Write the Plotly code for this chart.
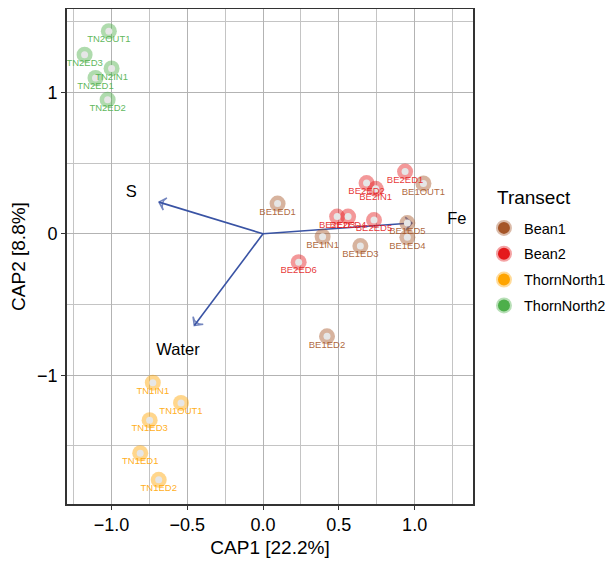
import plotly.graph_objects as go

# ---------------- data ----------------
groups = ["Bean1", "Bean2", "ThornNorth1", "ThornNorth2"]
group_colors = ["#A65628", "#E41A1C", "#FFA500", "#4DAF4A"]

bean1_labels = ["BE1OUT1", "BE1ED1", "BE1ED5", "BE1IN1", "BE1ED4", "BE1ED3", "BE1ED2"]
bean1_x = [1.058, 0.096, 0.952, 0.393, 0.952, 0.642, 0.422]
bean1_y = [0.356, 0.214, 0.076, -0.020, -0.025, -0.087, -0.725]

bean2_labels = ["BE2ED1", "BE2ED2", "BE2IN1", "BE2ED3", "BE2ED4", "BE2ED5", "BE2ED6"]
bean2_x = [0.937, 0.683, 0.743, 0.489, 0.561, 0.732, 0.235]
bean2_y = [0.440, 0.359, 0.318, 0.122, 0.122, 0.097, -0.201]

tn1_labels = ["TN1IN1", "TN1OUT1", "TN1ED3", "TN1ED1", "TN1ED2"]
tn1_x = [-0.727, -0.541, -0.748, -0.810, -0.688]
tn1_y = [-1.053, -1.196, -1.318, -1.552, -1.740]

tn2_labels = ["TN2OUT1", "TN2ED3", "TN2IN1", "TN2ED1", "TN2ED2"]
tn2_x = [-1.017, -1.177, -0.999, -1.105, -1.025]
tn2_y = [1.433, 1.267, 1.170, 1.102, 0.949]

env_names = ["S", "Water", "Fe"]
env_x = [-0.686, -0.453, 0.983]
env_y = [0.224, -0.649, 0.076]
env_label_x = [-0.869, -0.561, 1.278]
env_label_y = [0.288, -0.827, 0.102]

x_tick_vals = [-1.0, -0.5, 0.0, 0.5, 1.0]
x_tick_text = ["\u22121.0", "\u22120.5", "0.0", "0.5", "1.0"]
y_tick_vals = [-1, 0, 1]
y_tick_text = ["\u22121", "0", "1"]

series = [
    (bean1_labels, bean1_x, bean1_y),
    (bean2_labels, bean2_x, bean2_y),
    (tn1_labels, tn1_x, tn1_y),
    (tn2_labels, tn2_x, tn2_y),
]


def rgba(hexc, a):
    h = hexc.lstrip("#")
    r, g, b = int(h[0:2], 16), int(h[2:4], 16), int(h[4:6], 16)
    return f"rgba({r},{g},{b},{a})"


FONT = "Liberation Sans, Arial, Helvetica, sans-serif"
ARROW = "#3953A4"

fig = go.Figure()

# arrows (env vectors)
for name, ex, ey in zip(env_names, env_x, env_y):
    fig.add_trace(go.Scatter(
        x=[0, ex], y=[0, ey], mode="lines+markers",
        line=dict(color=ARROW, width=1.6),
        marker=dict(symbol=["circle", "arrow-wide-open"], size=[0, 9],
                    angleref="previous", color=ARROW,
                    line=dict(color=ARROW, width=1.6)),
        showlegend=False, hoverinfo="skip"))

# points: pale ring + grey center
for (labels, xs, ys), g, c in zip(series, groups, group_colors):
    fig.add_trace(go.Scatter(
        x=xs, y=ys, mode="markers",
        marker=dict(size=16, color=rgba(c, 0.45), line=dict(width=0)),
        showlegend=False, hoverinfo="skip"))
    fig.add_trace(go.Scatter(
        x=xs, y=ys, mode="markers",
        marker=dict(size=7, color="#E6E6E6", line=dict(width=0)),
        showlegend=False, hoverinfo="skip"))

# point labels (invisible marker gives the downward offset)
for (labels, xs, ys), g, c in zip(series, groups, group_colors):
    fig.add_trace(go.Scatter(
        x=xs, y=ys, mode="markers+text", text=labels, textposition="bottom center",
        marker=dict(size=5, opacity=0),
        textfont=dict(family=FONT, size=9.5, color=rgba(c, 0.9)),
        showlegend=False, hoverinfo="skip"))

# env labels
fig.add_trace(go.Scatter(
    x=env_label_x, y=env_label_y, mode="text", text=env_names,
    textposition="middle center",
    textfont=dict(family=FONT, size=16.5, color="black"),
    showlegend=False, hoverinfo="skip"))

# legend entries
for g, c in zip(groups, group_colors):
    fig.add_trace(go.Scatter(
        x=[None], y=[None], mode="markers", name=g, legendgroup=g,
        marker=dict(size=12, color=c, line=dict(width=4, color=rgba(c, 0.4)))))

# the page body adds an 8px margin; size the figure so the page fits the window
fig.update_layout(
    width=597, height=550,
    margin=dict(l=59, r=132, t=1, b=54, autoexpand=False),
    paper_bgcolor="white", plot_bgcolor="white",
    font=dict(family=FONT, color="black"),
    legend=dict(
        font=dict(size=14.5),
        x=1.027, xanchor="left", y=0.59, yanchor="top",
        tracegroupgap=4, itemsizing="trace",
        bgcolor="rgba(0,0,0,0)"),
    annotations=[dict(
        text="Transect", xref="paper", yref="paper", x=1.054, y=0.620,
        xanchor="left", yanchor="middle", showarrow=False,
        font=dict(size=19, family=FONT, color="black"))],
)

fig.update_xaxes(
    automargin=False,
    range=[-1.293, 1.385], tickvals=x_tick_vals, ticktext=x_tick_text,
    tickfont=dict(size=18), title=dict(text="CAP1 [22.2%]", font=dict(size=19), standoff=6),
    showgrid=True, gridcolor="#B3B3B3", gridwidth=1.4,
    minor=dict(dtick=0.25, tick0=0, showgrid=True, gridcolor="#C4C4C4", gridwidth=0.8),
    zeroline=False, showline=True, linecolor="#333333", linewidth=1.6, mirror=True,
    ticks="outside", ticklen=4, tickcolor="#333333", tickwidth=1.2)
fig.update_yaxes(
    automargin=False,
    range=[-1.911, 1.590], tickvals=y_tick_vals, ticktext=y_tick_text,
    tickfont=dict(size=18), title=dict(text="CAP2 [8.8%]", font=dict(size=19), standoff=6),
    showgrid=True, gridcolor="#B3B3B3", gridwidth=1.4,
    minor=dict(dtick=0.5, tick0=0, showgrid=True, gridcolor="#C4C4C4", gridwidth=0.8),
    zeroline=False, showline=True, linecolor="#333333", linewidth=1.6, mirror=True,
    ticks="outside", ticklen=4, tickcolor="#333333", tickwidth=1.2)

fig.write_html("out.html")
